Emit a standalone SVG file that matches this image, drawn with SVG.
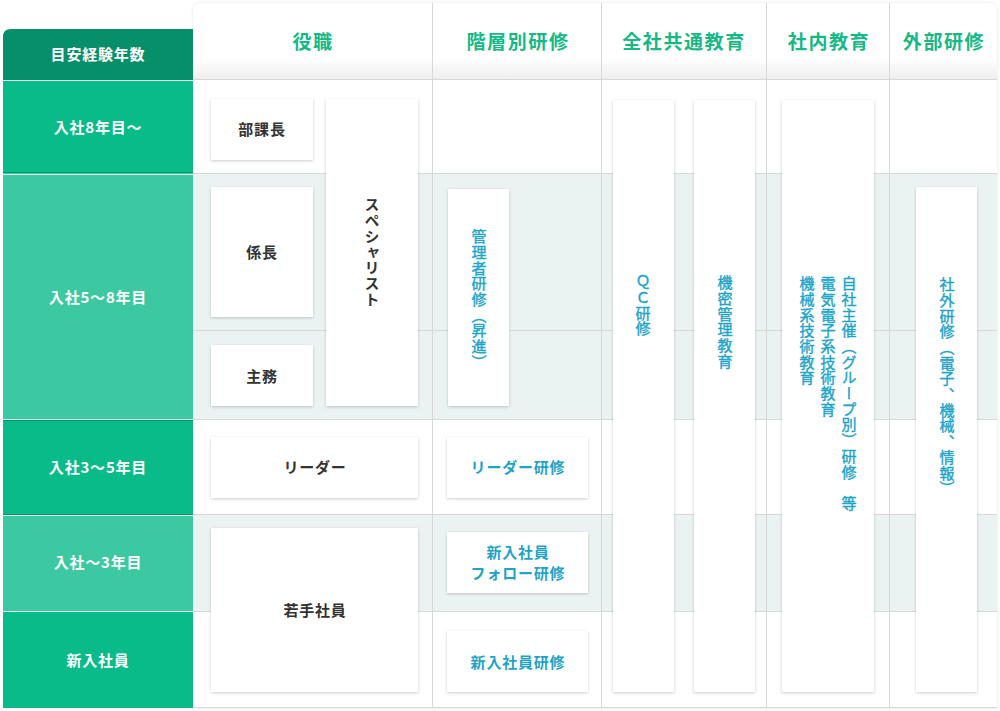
<svg xmlns="http://www.w3.org/2000/svg" width="1000" height="711" viewBox="0 0 1000 711">
<defs>
<filter id="sh" x="-30%" y="-30%" width="160%" height="160%"><feDropShadow dx="0" dy="1" stdDeviation="1.6" flood-color="#000" flood-opacity="0.2"/></filter>
<filter id="tsh" x="-5%" y="-5%" width="110%" height="110%"><feDropShadow dx="0" dy="0" stdDeviation="1.5" flood-color="#000" flood-opacity="0.12"/></filter>
<linearGradient id="hg" x1="0" y1="0" x2="0" y2="1"><stop offset="0" stop-color="#fff"/><stop offset="0.72" stop-color="#fff"/><stop offset="1" stop-color="#efefef"/></linearGradient>
<style>
text{font-family:"Noto Sans CJK JP","Noto Sans",sans-serif;}
.hd{font-size:19px;font-weight:700;fill:#14b985;letter-spacing:1.6px;text-anchor:middle;}
.lh{font-size:15px;font-weight:700;fill:#fff;letter-spacing:0.8px;text-anchor:middle;}
.box{fill:#fff;filter:url(#sh);}
.dk{font-size:15px;font-weight:700;fill:#333;letter-spacing:0.8px;text-anchor:middle;}
.bl{font-size:15px;font-weight:700;fill:#1ea3c9;letter-spacing:0.8px;text-anchor:middle;}
.v{writing-mode:vertical-rl;text-anchor:start;}
.vb{font-size:15px;font-weight:400;fill:#1ea3c9;stroke:#1ea3c9;stroke-width:0.4px;letter-spacing:0.7px;writing-mode:vertical-rl;}
.gl{stroke:#d8d8d8;stroke-width:1;fill:none;}
</style>
</defs>
<rect width="1000" height="711" fill="#fff"/>
<g id="table">
<path d="M193,11 Q193,3 201,3 H989 Q997,3 997,11 V708 H193 Z" fill="#fff" filter="url(#tsh)"/>
<path d="M193,11 Q193,3 201,3 H989 Q997,3 997,11 V79 H193 Z" fill="url(#hg)"/>
<rect x="193" y="173" width="804" height="246" fill="#eaf3f2"/>
<rect x="193" y="514" width="804" height="97" fill="#eaf3f2"/>
<g class="gl">
<path d="M193,79.5 H997 M193,173.5 H997 M193,330.5 H997 M193,419.5 H997 M193,514.5 H997 M193,611.5 H997 M193,707.5 H997"/>
<path d="M432.5,3 V708 M601.5,3 V708 M766.5,3 V708 M889.5,3 V708"/>
</g>
</g>
<g id="left-column">
<path d="M3,37 Q3,29 11,29 H193 V80 H3 Z" fill="#078f6a"/>
<rect x="3" y="80" width="190" height="93" fill="#08bb89"/>
<rect x="3" y="173" width="190" height="247" fill="#3cc9a1"/>
<rect x="3" y="420" width="190" height="94" fill="#08bb89"/>
<rect x="3" y="514" width="190" height="97" fill="#3cc9a1"/>
<rect x="3" y="611" width="190" height="97" fill="#08bb89"/>
<path d="M3,80.5 H193 M3,174.5 H193 M3,419.5 H193 M3,515.5 H193 M3,611.5 H193" stroke="#e6f4ef" stroke-width="1"/>
<path d="M3,172.5 H193 M3,420.5 H193 M3,514.5 H193" stroke="#0a946c" stroke-width="1"/>
<text class="lh" x="98" y="60">目安経験年数</text>
<text class="lh" x="98" y="133">入社8年目〜</text>
<text class="lh" x="98" y="303">入社5〜8年目</text>
<text class="lh" x="98" y="473">入社3〜5年目</text>
<text class="lh" x="98" y="568">入社〜3年目</text>
<text class="lh" x="98" y="666">新入社員</text>
</g>
<g id="headers">
<text class="hd" x="313" y="49">役職</text>
<text class="hd" x="518" y="49">階層別研修</text>
<text class="hd" x="684" y="49">全社共通教育</text>
<text class="hd" x="829" y="49">社内教育</text>
<text class="hd" x="944" y="49">外部研修</text>
</g>
<g id="node-bukacho"><rect class="box" x="211" y="99" width="102" height="61"/><text class="dk" x="262" y="135">部課長</text></g>
<g id="node-specialist"><rect class="box" x="326" y="99" width="92" height="307"/><text class="dk v" x="372" y="197">スペシャリスト</text></g>
<g id="node-kakaricho"><rect class="box" x="211" y="187" width="102" height="130"/><text class="dk" x="262" y="258">係長</text></g>
<g id="node-shumu"><rect class="box" x="211" y="345" width="102" height="61"/><text class="dk" x="262" y="382">主務</text></g>
<g id="node-leader"><rect class="box" x="211" y="437" width="207" height="61"/><text class="dk" x="315" y="473">リーダー</text></g>
<g id="node-wakate"><rect class="box" x="211" y="528" width="207" height="164"/><text class="dk" x="315" y="616">若手社員</text></g>
<g id="node-kanrisha"><rect class="box" x="448" y="189" width="61" height="217"/><text class="vb" x="479" y="229">管理者研修（昇進）</text></g>
<g id="node-leader-kenshu"><rect class="box" x="447" y="437" width="141" height="61"/><text class="bl" x="518" y="473">リーダー研修</text></g>
<g id="node-follow"><rect class="box" x="447" y="532" width="141" height="61"/><text class="bl" x="518" y="558">新入社員</text><text class="bl" x="518" y="579">フォロー研修</text></g>
<g id="node-shinnyu"><rect class="box" x="447" y="631" width="141" height="61"/><text class="bl" x="518" y="668">新入社員研修</text></g>
<g id="node-qc"><rect class="box" x="613" y="100" width="61" height="592"/><text class="vb" x="643" y="274">ＱＣ研修</text></g>
<g id="node-kimitsu"><rect class="box" x="694" y="100" width="61" height="592"/><text class="vb" x="725" y="275">機密管理教育</text></g>
<g id="node-shanai"><rect class="box" x="782" y="100" width="92" height="592"/>
<text class="vb" x="849" y="276">自社主催（グループ別）研修　等</text>
<text class="vb" x="828" y="276">電気電子系技術教育</text>
<text class="vb" x="807" y="276">機械系技術教育</text></g>
<g id="node-shagai"><rect class="box" x="916" y="187" width="61" height="505"/><text class="vb" x="947" y="277">社外研修（電子、機械、情報）</text></g>
<g id="connectors"/>
</svg>
